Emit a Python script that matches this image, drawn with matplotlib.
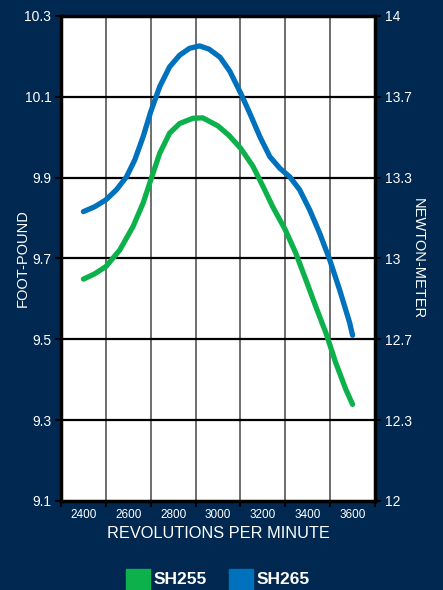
import matplotlib
matplotlib.use("Agg")
import matplotlib.pyplot as plt
from matplotlib.patches import Rectangle

# values (rpm, foot-pound)
rpm_255 = [2400, 2450, 2500, 2562, 2621, 2666, 2700, 2740, 2784, 2829, 2888, 2932, 3000,
           3050, 3102, 3156, 3201, 3244, 3300, 3347, 3392, 3436, 3481, 3525, 3570, 3600]
sh255 = [9.649, 9.662, 9.680, 9.721, 9.779, 9.837, 9.894, 9.960, 10.010, 10.034, 10.047,
         10.048, 10.028, 10.004, 9.972, 9.928, 9.878, 9.828, 9.771, 9.713, 9.647, 9.581,
         9.516, 9.442, 9.376, 9.339]

rpm_265 = [2400, 2450, 2500, 2547, 2592, 2629, 2666, 2700, 2740, 2784, 2829, 2873, 2918,
           2960, 3009, 3053, 3102, 3142, 3187, 3231, 3276, 3320, 3364, 3409, 3453,
           3498, 3542, 3587, 3600]
sh265 = [9.816, 9.828, 9.845, 9.870, 9.902, 9.944, 10.001, 10.063, 10.125, 10.174, 10.203,
         10.220, 10.226, 10.218, 10.198, 10.163, 10.108, 10.059, 10.001, 9.952,
         9.923, 9.902, 9.870, 9.820, 9.763, 9.697, 9.623, 9.541, 9.510]

series_names = ["SH255", "SH265"]
x_ticks = [2400, 2600, 2800, 3000, 3200, 3400, 3600]
y_ticks = [9.1, 9.3, 9.5, 9.7, 9.9, 10.1, 10.3]
y_labels = ["9.1", "9.3", "9.5", "9.7", "9.9", "10.1", "10.3"]
nm_labels = ["12", "12.3", "12.7", "13", "13.3", "13.7", "14"]

navy = "#002850"
green = "#0db14b"
blue = "#0071bc"

plt.rcParams['font.family'] = ['Liberation Sans', 'DejaVu Sans']

fig = plt.figure(figsize=(4.43, 5.90), dpi=100, facecolor=navy)
ax = fig.add_axes([61 / 443, 1 - 501 / 590, 314 / 443, 485 / 590])
ax.set_facecolor("white")

ax.plot(rpm_255, sh255, color=green, lw=3.8, solid_capstyle="round",
        solid_joinstyle="round", zorder=3)
ax.plot(rpm_265, sh265, color=blue, lw=3.8, solid_capstyle="round",
        solid_joinstyle="round", zorder=3)

# columns are centred on the rpm labels, grid lines sit between them
ax.set_xlim(2300, 3700)
ax.set_ylim(9.1, 10.3)
grid_x = [t - 100 for t in x_ticks] + [x_ticks[-1] + 100]
for gx in grid_x[1:-1]:
    ax.axvline(gx, color="#555555", lw=1.2, zorder=1)
for gy in y_ticks[1:-1]:
    ax.axhline(gy, color="black", lw=1.6, zorder=1)

ax.set_xticks(x_ticks)
ax.set_xticklabels([str(t) for t in x_ticks])
ax.set_xticks(grid_x, minor=True)
ax.tick_params(axis="x", which="major", length=0, colors="white", labelsize=8.5, pad=6)
ax.tick_params(axis="x", which="minor", length=4, width=1.5, color="black", direction="out")

ax.set_yticks(y_ticks)
ax.set_yticklabels(y_labels)
ax.tick_params(axis="y", length=4, width=1.5, color="black", labelcolor="white",
               labelsize=10, pad=3)

for s in ax.spines.values():
    s.set_color("black")
    s.set_linewidth(2)

ax2 = ax.twinx()
ax2.set_ylim(9.1, 10.3)
ax2.set_yticks(y_ticks)
ax2.set_yticklabels(nm_labels)
ax2.tick_params(axis="y", length=4, width=1.5, color="black", labelcolor="white",
                labelsize=10, pad=3)
for s in ax2.spines.values():
    s.set_color("black")
    s.set_linewidth(2.5)

ax.set_xlabel("REVOLUTIONS PER MINUTE", color="white", fontsize=11.8, va="center")
ax.xaxis.set_label_coords(0.5, -0.068)
ax.set_ylabel("FOOT-POUND", color="white", fontsize=10.5, va="center")
ax.yaxis.set_label_coords(-0.121, 0.5)
ax2.set_ylabel("NEWTON-METER", color="white", fontsize=10.5, rotation=-90, va="center")
ax2.yaxis.set_label_coords(1.137, 0.5)

# legend squares at the bottom, cut by the edge like in the original
for name, col, x0 in zip(series_names, [green, blue], [126, 229]):
    fig.patches.append(Rectangle((x0 / 443, -0.01), 24 / 443, 27 / 590,
                                 transform=fig.transFigure, color=col))
    fig.text((x0 + 28) / 443, 10 / 590, name, color="white", fontsize=12.5,
             fontweight="bold", va="center", ha="left")

fig.savefig("out.png", dpi=100, facecolor=navy)
